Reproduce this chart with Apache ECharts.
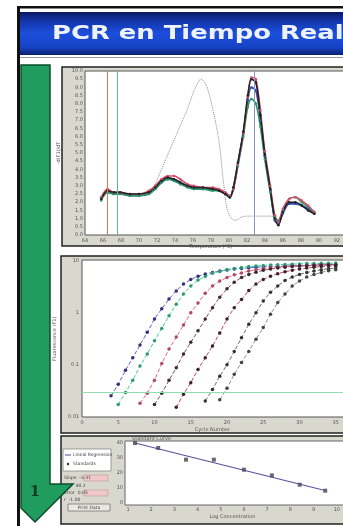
<!DOCTYPE html>
<html>
<head>
<meta charset="utf-8">
<script src="https://cdn.jsdelivr.net/npm/echarts@6/dist/echarts.min.js"></script>
<style>
  html, body { margin: 0; padding: 0; background: #fff; }
  #chart { width: 343px; height: 526px; }
</style>
</head>
<body>
<div id="chart"></div>
<script>
// melt curve panel (-dF/dT vs temperature)
const meltTemp = [65.8, 66.5, 67.2, 67.9, 69.0, 70.0, 71.1, 71.8, 72.5, 73.2, 73.9, 74.6, 75.4, 76.1, 77.1, 78.2, 78.9, 79.6, 80.1, 80.5, 81.0, 81.6, 82.1, 82.5, 83.0, 83.5, 84.0, 84.6, 85.1, 85.5, 86.0, 86.7, 87.4, 88.1, 88.8, 89.5];
const meltBlack = [2.2, 2.7, 2.6, 2.6, 2.5, 2.5, 2.6, 2.9, 3.3, 3.5, 3.4, 3.2, 3.0, 2.9, 2.9, 2.8, 2.7, 2.5, 2.3, 2.9, 4.4, 6.3, 8.5, 9.5, 9.3, 7.3, 4.9, 2.8, 1.0, 0.6, 1.4, 2.0, 2.0, 1.8, 1.5, 1.3];
const meltRed = [2.3, 2.8, 2.6, 2.6, 2.5, 2.5, 2.7, 3.0, 3.4, 3.6, 3.6, 3.4, 3.1, 3.0, 2.9, 2.9, 2.8, 2.6, 2.4, 2.8, 4.3, 6.2, 8.4, 9.6, 9.5, 7.6, 5.1, 3.0, 1.2, 0.8, 1.6, 2.2, 2.3, 2.1, 1.8, 1.4];
const meltGreen = [2.1, 2.6, 2.5, 2.5, 2.4, 2.4, 2.5, 2.8, 3.2, 3.4, 3.3, 3.1, 2.9, 2.8, 2.8, 2.7, 2.7, 2.5, 2.3, 2.8, 4.2, 6.0, 7.8, 8.3, 8.0, 6.6, 4.6, 2.6, 1.1, 0.9, 1.5, 2.2, 2.3, 2.0, 1.7, 1.4];
const meltBlue = [2.2, 2.6, 2.5, 2.5, 2.4, 2.4, 2.5, 2.8, 3.2, 3.4, 3.4, 3.2, 3.0, 2.9, 2.8, 2.8, 2.7, 2.5, 2.3, 2.9, 4.4, 6.2, 8.2, 9.0, 8.8, 7.0, 4.8, 2.7, 0.9, 0.7, 1.3, 1.9, 1.9, 1.8, 1.6, 1.3];
const ctrlTemp = [71.5, 72.2, 73.2, 74.3, 75.4, 76.2, 76.9, 77.5, 78.2, 78.9, 79.4, 79.8, 80.3, 80.8, 81.4, 82.1, 85.3];
const ctrlValues = [2.7, 3.6, 4.9, 6.3, 7.7, 8.9, 9.5, 9.1, 7.7, 5.7, 3.2, 1.6, 1.0, 0.9, 1.1, 1.15, 1.15];
const meltMarkers = [66.5, 67.6, 82.8];

// amplification panel (fluorescence vs cycle, log scale)
const ampStartCycle = [4, 5, 8, 10, 13, 17, 19];
const amp1 = [0.025, 0.042, 0.078, 0.136, 0.24, 0.42, 0.76, 1.2, 1.85, 2.65, 3.6, 4.4, 5.1, 5.6, 6.0, 6.4, 6.7, 7.0, 7.2, 7.4, 7.6, 7.7, 7.8, 7.9, 8.0, 8.1, 8.2, 8.3, 8.4, 8.5, 8.5, 8.6];
const amp2 = [0.017, 0.029, 0.05, 0.094, 0.16, 0.29, 0.5, 0.88, 1.47, 2.3, 3.3, 4.3, 5.0, 5.8, 6.3, 6.8, 7.2, 7.5, 7.8, 8.0, 8.2, 8.4, 8.5, 8.6, 8.7, 8.8, 8.9, 8.9, 9.0, 9.0, 9.1];
const amp3 = [0.018, 0.028, 0.05, 0.105, 0.2, 0.34, 0.58, 1.0, 1.55, 2.4, 3.3, 4.1, 4.8, 5.4, 5.9, 6.4, 6.8, 7.1, 7.4, 7.6, 7.8, 8.0, 8.1, 8.2, 8.3, 8.4, 8.5, 8.5];
const amp4 = [0.017, 0.028, 0.05, 0.087, 0.16, 0.27, 0.45, 0.76, 1.26, 2.0, 2.9, 3.9, 4.8, 5.5, 6.1, 6.6, 7.0, 7.3, 7.6, 7.8, 8.0, 8.1, 8.2, 8.3, 8.4, 8.5];
const amp5 = [0.015, 0.027, 0.045, 0.081, 0.136, 0.23, 0.41, 0.76, 1.26, 1.8, 2.7, 3.6, 4.4, 5.1, 5.7, 6.2, 6.6, 7.0, 7.3, 7.6, 7.8, 8.0, 8.1];
const amp6 = [0.02, 0.033, 0.06, 0.1, 0.18, 0.33, 0.6, 1.0, 1.7, 2.5, 3.3, 4.2, 4.9, 5.5, 6.0, 6.4, 6.8, 7.1, 7.3];
const amp7 = [0.021, 0.035, 0.065, 0.11, 0.18, 0.31, 0.52, 0.94, 1.58, 2.3, 3.3, 4.1, 4.9, 5.5, 6.0, 6.5, 6.8];
const threshold = 0.0275;

// standard curve panel
const stdLogConc = [1.3, 2.3, 3.5, 4.7, 6.0, 7.2, 8.4, 9.5];
const stdCycle = [40.0, 36.7, 28.9, 28.9, 22.2, 18.4, 12.2, 8.2];
const regLogConc = [1.3, 9.5];
const regCycle = [40.0, 8.3];

const ampCurves = [amp1, amp2, amp3, amp4, amp5, amp6, amp7];
const ampLineColors = ["#6a5ad0", "#3fcf9c", "#e46a86", "#8a4a66", "#c0485e", "#707070", "#7a9a8a"];
const ampDotColors = ["#34307a", "#2f9a74", "#b04a60", "#3a2a30", "#3a2028", "#333333", "#444444"];

const chart = echarts.init(document.getElementById("chart"), null, { renderer: "canvas" });

const pairs = (xs, ys) => xs.map((x, i) => [x, ys[i]]);
const tiny = { fontSize: 5, color: "#555", fontFamily: "DejaVu Sans" };

const meltSeries = [
  { data: meltBlue, color: "#3050b0" },
  { data: meltGreen, color: "#2a9a6a" },
  { data: meltRed, color: "#d8506a" },
  { data: meltBlack, color: "#222" },
].map((m) => ({
  type: "line",
  xAxisIndex: 0,
  yAxisIndex: 0,
  data: pairs(meltTemp, m.data),
  smooth: 0.3,
  symbol: "circle",
  symbolSize: 2.5,
  itemStyle: { color: m.color },
  lineStyle: { color: m.color, width: 1.6 },
}));
meltSeries[0].markLine = {
  silent: true,
  symbol: "none",
  label: { show: false },
  data: [
    { xAxis: meltMarkers[0], lineStyle: { color: "#e5744e", width: 1, type: "solid" } },
    { xAxis: meltMarkers[1], lineStyle: { color: "#5cbc84", width: 1, type: "solid" } },
    { xAxis: meltMarkers[2], lineStyle: { color: "#8a94c4", width: 1, type: "solid" } },
  ],
};

const ampSeries = ampCurves.map((c, k) => ({
  type: "line",
  xAxisIndex: 1,
  yAxisIndex: 1,
  data: c.map((v, i) => [ampStartCycle[k] + i, v]),
  symbol: "circle",
  symbolSize: 3.5,
  itemStyle: { color: ampDotColors[k] },
  lineStyle: { color: ampLineColors[k], width: 1, type: "dashed" },
}));
ampSeries[0].markLine = {
  silent: true,
  symbol: "none",
  label: { show: false },
  data: [{ yAxis: threshold }],
  lineStyle: { color: "#8fe0b0", width: 1.2, type: "solid" },
};

const option = {
  animation: false,
  backgroundColor: "#fff",
  grid: [
    { left: 85, top: 71, width: 263, height: 164 },
    { left: 82, top: 261, width: 264, height: 155.5 },
    { left: 128, top: 443, width: 212, height: 60 },
  ],
  xAxis: [
    {
      type: "value", gridIndex: 0, min: 64, max: 92, interval: 2,
      axisLine: { show: false }, axisTick: { show: false }, splitLine: { show: false },
      axisLabel: Object.assign({ margin: 3 }, tiny),
      name: "Temperature (°C)", nameLocation: "middle", nameGap: 9, nameTextStyle: tiny,
    },
    {
      type: "value", gridIndex: 1, min: 0, max: 36, interval: 5,
      axisLine: { show: false }, axisTick: { show: false }, splitLine: { show: false },
      axisLabel: Object.assign({ margin: 4, showMaxLabel: false }, tiny),
      name: "Cycle Number", nameLocation: "middle", nameGap: 11, nameTextStyle: tiny,
    },
    {
      type: "value", gridIndex: 2, min: 1, max: 10, interval: 1,
      axisLine: { show: false }, axisTick: { show: false }, splitLine: { show: false },
      axisLabel: Object.assign({ margin: 4 }, tiny),
      name: "Log Concentration", nameLocation: "middle", nameGap: 11, nameTextStyle: tiny,
    },
  ],
  yAxis: [
    {
      type: "value", gridIndex: 0, min: 0, max: 10, interval: 0.5,
      axisLine: { show: false }, axisTick: { show: false }, splitLine: { show: false },
      axisLabel: Object.assign({ margin: 2, formatter: (v) => v.toFixed(1) }, tiny),
      name: "-d(F1)/dT", nameLocation: "middle", nameGap: 13, nameRotate: 90, nameTextStyle: tiny,
    },
    {
      type: "log", gridIndex: 1, min: 0.01, max: 10, logBase: 10,
      axisLine: { show: false }, axisTick: { show: false }, splitLine: { show: false },
      axisLabel: Object.assign({ margin: 3 }, tiny),
      name: "Fluorescence (F1)", nameLocation: "middle", nameGap: 12, nameRotate: 90, nameTextStyle: tiny,
    },
    {
      type: "value", gridIndex: 2, min: 0, max: 40, interval: 10,
      axisLine: { show: false }, axisTick: { show: false }, splitLine: { show: false },
      axisLabel: Object.assign({ margin: 5 }, tiny),
    },
  ],
  graphic: [
    // slide frame and title bar
    { type: "rect", z: -20, shape: { x: 17, y: 6, width: 326, height: 2.5 }, style: { fill: "#111" } },
    { type: "rect", z: -20, shape: { x: 17, y: 6, width: 3, height: 520 }, style: { fill: "#111" } },
    {
      type: "rect", z: -20, shape: { x: 20, y: 12, width: 323, height: 43 },
      style: {
        fill: new echarts.graphic.LinearGradient(0, 0, 0, 1, [
          { offset: 0, color: "#0a1a60" },
          { offset: 0.2, color: "#1334a8" },
          { offset: 0.5, color: "#1c4fdc" },
          { offset: 0.82, color: "#1642c4" },
          { offset: 1, color: "#0a2270" },
        ]),
      },
    },
    { type: "rect", z: -20, shape: { x: 20, y: 57, width: 323, height: 1 }, style: { fill: "#999" } },
    {
      type: "text", z: 10, x: 52, y: 34, scaleX: 1.36,
      style: { text: "PCR en Tiempo Real", fill: "#eef2fb", font: "bold 19px 'DejaVu Sans'", verticalAlign: "middle" },
    },
    // panel 1
    { type: "rect", z: -10, shape: { x: 62, y: 67, width: 290, height: 179 }, style: { fill: "#d8d8cf", stroke: "#222", lineWidth: 1.5 } },
    { type: "rect", z: -9, shape: { x: 85, y: 71, width: 265, height: 164 }, style: { fill: "#fff", stroke: "#555", lineWidth: 1 } },
    // panel 2
    { type: "rect", z: -10, shape: { x: 61, y: 256, width: 290, height: 177 }, style: { fill: "#d8d8cf", stroke: "#222", lineWidth: 1.5 } },
    { type: "rect", z: -9, shape: { x: 82, y: 260, width: 268, height: 157 }, style: { fill: "#fff", stroke: "#555", lineWidth: 1 } },
    // panel 3
    { type: "rect", z: -10, shape: { x: 61, y: 436, width: 290, height: 88 }, style: { fill: "#d8d8cf", stroke: "#222", lineWidth: 1.5 } },
    { type: "rect", z: -9, shape: { x: 125, y: 441, width: 222, height: 64 }, style: { fill: "#fff", stroke: "#666", lineWidth: 1 } },
    { type: "text", z: 5, x: 132, y: 438.5, style: { text: "Standard Curve", fill: "#555", font: "5px 'DejaVu Sans'", verticalAlign: "middle" } },
    { type: "rect", z: 5, shape: { x: 63, y: 449, width: 48, height: 22 }, style: { fill: "#fff", stroke: "#888", lineWidth: 0.8 } },
    { type: "line", z: 6, shape: { x1: 65, y1: 455, x2: 71, y2: 455 }, style: { stroke: "#4a4a9a", lineWidth: 1 } },
    { type: "text", z: 6, x: 73, y: 455, style: { text: "Lineal Regression", fill: "#444", font: "4.5px 'DejaVu Sans'", verticalAlign: "middle" } },
    { type: "circle", z: 6, shape: { cx: 68, cy: 464, r: 1.2 }, style: { fill: "#333" } },
    { type: "text", z: 6, x: 73, y: 464, style: { text: "Standards", fill: "#444", font: "4.5px 'DejaVu Sans'", verticalAlign: "middle" } },
    { type: "rect", z: 5, shape: { x: 84, y: 475, width: 24, height: 6 }, style: { fill: "#efc8c8", stroke: "#b88", lineWidth: 0.5 } },
    { type: "text", z: 6, x: 64, y: 478, style: { text: "Slope  -3.31", fill: "#444", font: "4.5px 'DejaVu Sans'", verticalAlign: "middle" } },
    { type: "text", z: 6, x: 64, y: 486, style: { text: "Int.   40.2", fill: "#444", font: "4.5px 'DejaVu Sans'", verticalAlign: "middle" } },
    { type: "rect", z: 5, shape: { x: 84, y: 490, width: 24, height: 6 }, style: { fill: "#efc8c8", stroke: "#b88", lineWidth: 0.5 } },
    { type: "text", z: 6, x: 64, y: 493, style: { text: "Error  0.05", fill: "#444", font: "4.5px 'DejaVu Sans'", verticalAlign: "middle" } },
    { type: "text", z: 6, x: 64, y: 500, style: { text: "r  -1.00", fill: "#444", font: "4.5px 'DejaVu Sans'", verticalAlign: "middle" } },
    { type: "rect", z: 5, shape: { x: 68, y: 504, width: 42, height: 7 }, style: { fill: "#e8e8e0", stroke: "#777", lineWidth: 0.8 } },
    { type: "text", z: 6, x: 89, y: 507.5, style: { text: "Print Data", fill: "#444", font: "4.5px 'DejaVu Sans'", align: "center", verticalAlign: "middle" } },
    // green arrow
    {
      type: "polygon", z: 20,
      shape: { points: [[21, 65], [50, 65], [50, 484], [73, 484], [35, 522], [21, 508]] },
      style: { fill: "#1f9c5e", stroke: "#0e4d2c", lineWidth: 1.5 },
    },
    { type: "text", z: 21, x: 35, y: 492, style: { text: "1", fill: "#0c3d22", font: "bold 15px 'DejaVu Serif'", align: "center", verticalAlign: "middle" } },
  ],
  series: [
    ...meltSeries,
    {
      type: "line",
      xAxisIndex: 0,
      yAxisIndex: 0,
      data: pairs(ctrlTemp, ctrlValues),
      smooth: 0.3,
      showSymbol: false,
      lineStyle: { color: "#8a8a8a", width: 1, type: "dotted" },
    },
    ...ampSeries,
    {
      type: "line",
      xAxisIndex: 2,
      yAxisIndex: 2,
      data: pairs(regLogConc, regCycle),
      showSymbol: false,
      lineStyle: { color: "#4a4a9a", width: 1 },
    },
    {
      type: "scatter",
      xAxisIndex: 2,
      yAxisIndex: 2,
      data: pairs(stdLogConc, stdCycle),
      symbol: "rect",
      symbolSize: 4,
      itemStyle: { color: "#444" },
    },
  ],
};

chart.setOption(option);
</script>
</body>
</html>
